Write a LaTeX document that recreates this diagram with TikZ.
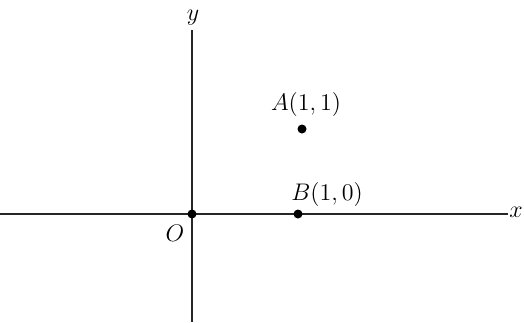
\documentclass[tikz,border=0pt]{standalone}
\usepackage{amsmath}
\usepackage{tikz}
\usetikzlibrary{positioning}

\begin{document}
\begin{tikzpicture}[
    x=0.5pt, y=-0.5pt,
    axis/.style={line width=1pt, black!85},
    dot/.style={circle, fill=black, inner sep=0pt, minimum size=4.5pt},
    lbl/.style={font=\fontsize{12}{14}\selectfont, inner sep=1pt}
]
\useasboundingbox (0,0) rectangle (524,322);

% Axes
\coordinate (xl) at (0,214);
\coordinate (xr) at (508,214);
\coordinate (yt) at (192,30);
\coordinate (yb) at (192,322);
\draw[axis] (xl) -- (xr);
\draw[axis] (yb) -- (yt);

% Points
\node[dot] (O) at (192,214) {};
\node[dot] (B) at (298,214) {};
\node[dot] (A) at (302,129) {};

% Labels
\node[lbl] (ylab) at (193,18) {$y$};
\node[lbl] (xlab) at (516,212) {$x$};
\node[lbl] (Olab) at (175,233) {$O$};
\node[lbl] (Blab) at (327,194) {$B(1,0)$};
\node[lbl] (Alab) at (306,104) {$A(1,1)$};

\end{tikzpicture}
\end{document}
